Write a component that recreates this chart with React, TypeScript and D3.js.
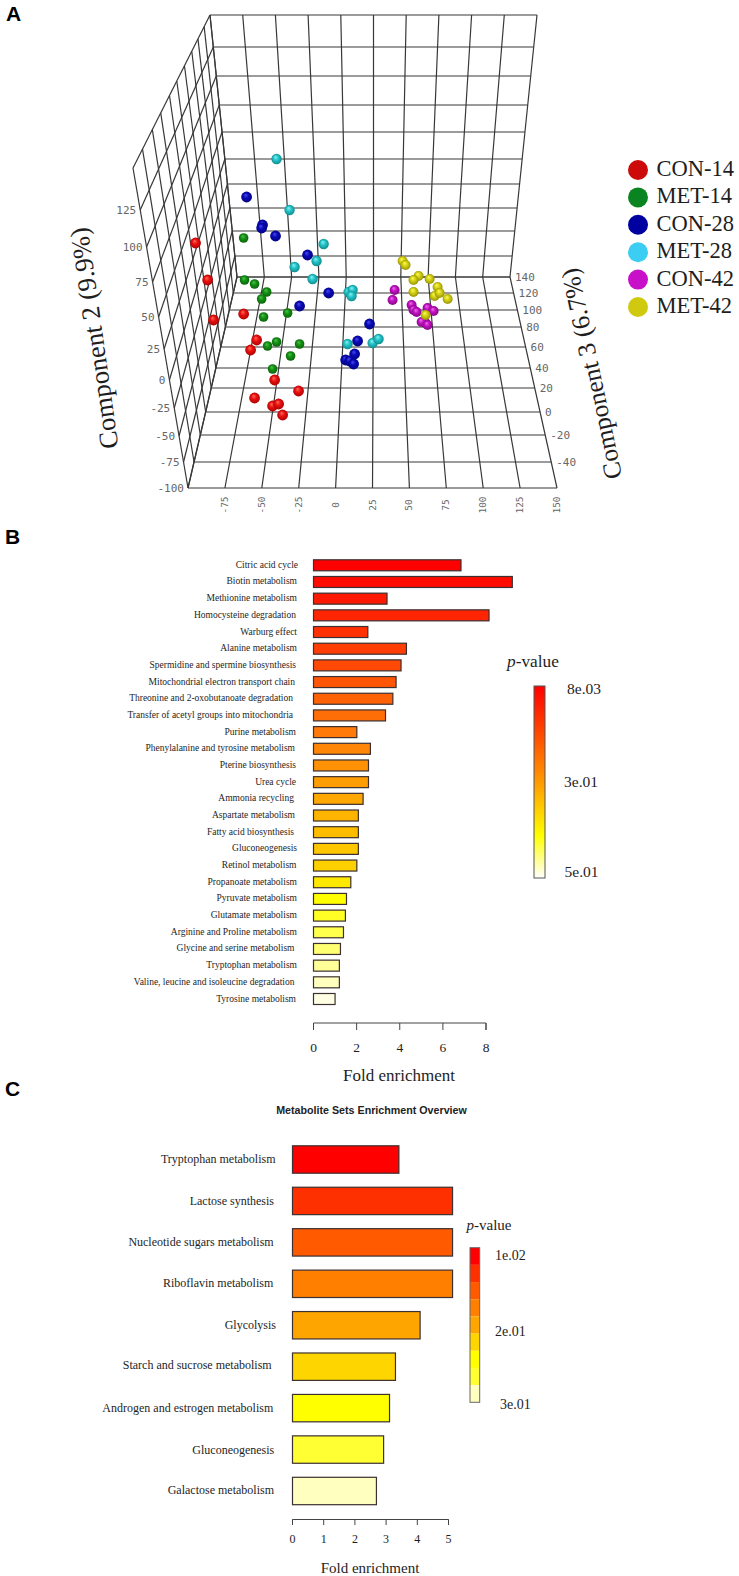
import React from "react";
import * as d3 from "d3";

// ---------- DATA ----------
const legendGroups = ["CON-14", "MET-14", "CON-28", "MET-28", "CON-42", "MET-42"];
const con14C1 = [-94.9, -86.7, -82.7, -62.3, -53.5, -57.6, -41.3, -25.1, -54.9, -42.7, -38.6, -35.9];
const con14C2 = [96, 66.4, 34.4, 39.2, 18.4, 10.4, -13.6, -22.4, -28, -34.4, -32.8, -41.6];
const met14C1 = [-62.3, -61.7, -54.9, -46.7, -50.1, -32.5, -48.8, -40, -46.1, -24.4, -30.5, -42.7];
const met14C2 = [100, 66.4, 63.2, 56.8, 51.2, 40, 36.8, 16.8, 13.6, 15.2, 5.6, -4.8];
const con28C1 = [-60.3, -49.5, -50.1, -40.7, -19, -4.7, -24.4, 23, 14.9, 12.9, 6.8, 9.5, 12.2];
const con28C2 = [132.8, 110.4, 108, 101.6, 86.4, 56, 45.6, 31.2, 17.6, 7.2, 2.4, 1.6, -0.8];
const met28C1 = [-40, -31.2, -8.1, -12.9, -27.8, -15.6, 8.8, 11.5, 10.8, 8.1, 25.1, 29.1];
const met28C2 = [163.2, 122.4, 95.2, 81.6, 76.8, 67.2, 56.8, 58.4, 53.6, 15.2, 16, 19.2];
const con42C1 = [40, 38.6, 51.5, 52.8, 54.9, 62.3, 66.4, 61, 58.3, 62.3];
const con42C2 = [58.4, 50.4, 46.4, 42.4, 40.8, 44, 41.6, 32, 32.8, 30.4];
const met42C1 = [45.4, 47.4, 56.2, 52.8, 63.7, 52.8, 69.1, 67.1, 70.5, 75.9, 61];
const met42C2 = [81.6, 78.4, 69.6, 66.4, 67.2, 56.8, 60.8, 53.6, 56, 51.2, 38.4];

const comp1Ticks = ["-75", "-50", "-25", "0", "25", "50", "75", "100", "125", "150"];
const comp2Ticks = ["125", "100", "75", "50", "25", "0", "-25", "-50", "-75", "-100"];
const comp3Ticks = ["140", "120", "100", "80", "60", "40", "20", "0", "-20", "-40"];

const pathwaysB = [
  "Citric acid cycle", "Biotin metabolism", "Methionine metabolism", "Homocysteine degradation",
  "Warburg effect", "Alanine metabolism", "Spermidine and spermine biosynthesis",
  "Mitochondrial electron transport chain", "Threonine and 2-oxobutanoate degradation",
  "Transfer of acetyl groups into mitochondria", "Purine metabolism",
  "Phenylalanine and tyrosine metabolism", "Pterine biosynthesis", "Urea cycle", "Ammonia recycling",
  "Aspartate metabolism", "Fatty acid biosynthesis", "Gluconeogenesis", "Retinol metabolism",
  "Propanoate metabolism", "Pyruvate metabolism", "Glutamate metabolism",
  "Arginine and Proline metabolism", "Glycine and serine metabolism", "Tryptophan metabolism",
  "Valine, leucine and isoleucine degradation", "Tyrosine metabolism",
];
const foldB = [6.84, 9.22, 3.41, 8.14, 2.52, 4.31, 4.06, 3.83, 3.68, 3.34, 2.01, 2.64, 2.55, 2.55, 2.3,
  2.08, 2.08, 2.08, 2.01, 1.73, 1.53, 1.48, 1.39, 1.25, 1.2, 1.2, 1.0];
const foldTicksB = [0, 2, 4, 6, 8];
const pLabelsB = ["8e.03", "3e.01", "5e.01"];

const pathwaysC = [
  "Tryptophan metabolism", "Lactose synthesis", "Nucleotide sugars metabolism", "Riboflavin metabolism",
  "Glycolysis", "Starch and sucrose metabolism", "Androgen and estrogen metabolism", "Gluconeogenesis",
  "Galactose metabolism",
];
const foldC = [3.41, 5.13, 5.13, 5.13, 4.09, 3.3, 3.11, 2.92, 2.69];
const foldTicksC = [0, 1, 2, 3, 4, 5];
const pLabelsC = ["1e.02", "2e.01", "3e.01"];
const heatC = ["#ff0000", "#ff3000", "#ff5a00", "#ff8000", "#ffa500", "#ffd500", "#ffff00", "#ffff33", "#ffffbf"];

// ---------- LAYOUT / STYLE ----------
const SERIF = "'Liberation Serif', serif";
const SANS = "'Liberation Sans', Arial, sans-serif";
const MONO = "'DejaVu Sans Mono', monospace";
const INK = "#1e1e1e";

const backLevels = [15, 47, 76, 105, 132, 159, 184, 208, 231, 256, 277];
const floorLevels = [277, 293, 310, 327, 347, 368, 388, 412, 435, 462, 488];
type P = [number, number];
const A: P = [210, 15], B: P = [237, 277], CC: P = [188, 488], D: P = [133, 168];
const R0: P = [537, 15], R1: P = [510, 277], R2: P = [557, 488];
const lerp = (a: P, b: P, t: number): P => [a[0] + (b[0] - a[0]) * t, a[1] + (b[1] - a[1]) * t];
const line3 = d3.line<P>();
const backT = backLevels.map((y) => (y - 15) / 262);
const floorT = floorLevels.map((y) => (y - 277) / 211);
const outerLevels = [168, 210, 247, 282, 317, 349, 380, 408, 436, 462, 488];
const outerT = outerLevels.map((y) => (y - 168) / 320);

const gridSegs: P[][] = [];
backT.forEach((t) => gridSegs.push([lerp(A, B, t), lerp(R0, R1, t)]));
floorT.forEach((t) => gridSegs.push([lerp(B, CC, t), lerp(R1, R2, t)]));
d3.range(11).forEach((i) => {
  const u = i / 10;
  gridSegs.push([lerp(A, R0, u), lerp(B, R1, u), lerp(CC, R2, u)]);
});
// left wall
d3.range(11).forEach((i) => {
  gridSegs.push([lerp(A, B, backT[i]), lerp(D, CC, outerT[i])]);
  gridSegs.push([lerp(A, D, floorT[i]), lerp(B, CC, floorT[i])]);
});

const xA = d3.scaleLinear().domain([-100, 150]).range([188, 557]);
const yA = d3.scaleLinear().domain([-100, 280]).range([488, 13]);

const seriesA = [
  { c1: con14C1, c2: con14C2, r: 5.4, id: "s0", hi: "#ff6a5a", mid: "#e81010", lo: "#a80000", flat: "#cc0a0a" },
  { c1: met14C1, c2: met14C2, r: 4.8, id: "s1", hi: "#4fc24f", mid: "#129012", lo: "#0a5f0a", flat: "#0a8420" },
  { c1: con28C1, c2: con28C2, r: 5.4, id: "s2", hi: "#4a4ae8", mid: "#0808b8", lo: "#04047a", flat: "#0000a0" },
  { c1: met28C1, c2: met28C2, r: 5.2, id: "s3", hi: "#8ff0f0", mid: "#20c4c8", lo: "#128488", flat: "#3ccdf2" },
  { c1: con42C1, c2: con42C2, r: 5.0, id: "s4", hi: "#f070f0", mid: "#c010c0", lo: "#800880", flat: "#c810c8" },
  { c1: met42C1, c2: met42C2, r: 5.0, id: "s5", hi: "#fbfb60", mid: "#d4d010", lo: "#8f8c08", flat: "#cfc90f" },
];

// Panel B
const xB = d3.scaleLinear().domain([0, 8]).range([313.5, 486]);
const yB = d3.scalePoint<string>().domain(pathwaysB).range([565.3, 999]);
const heatB = d3.scaleLinear<string>()
  .domain([0, 10, 15, 18, 20, 26])
  .range(["#ff0000", "#ff7a08", "#ffb400", "#ffd000", "#ffff00", "#ffffe4"]);
const labelEndsB = [298, 297, 297, 296, 297, 297, 296, 295, 293, 293, 296, 295, 296, 296, 294, 295, 294, 297, 296.5, 297, 297, 297, 297, 294.5, 297, 294.5, 296];

// Panel C
const xC = d3.scaleLinear().domain([0, 5]).range([292.5, 448.5]);
const yC = d3.scalePoint<string>().domain(pathwaysC).range([1159.5, 1491]);
const labelEndsC = [275.5, 274, 273.7, 273.3, 276, 271.7, 273.3, 274.3, 274];
const labelYNudgeC = [0, 1, 0.5, 0, 0, -1, 0.5, 0.5, -1];

const Title = ({ x, y, size, children }: any) => (
  <text x={x} y={y} fontFamily={SERIF} fontSize={size} fill={INK} textAnchor="middle">{children}</text>
);

export default function App() {
  return (
    <svg width={739} height={1576} viewBox="0 0 739 1576"
      style={{ position: "absolute", left: 0, top: 0, display: "block", background: "#fff" }}>
      <defs>
        {seriesA.map((s) => (
          <radialGradient key={s.id} id={s.id} cx="0.5" cy="0.5" r="0.55" fx="0.4" fy="0.3">
            <stop offset="0" stopColor={s.hi} />
            <stop offset="0.45" stopColor={s.mid} />
            <stop offset="1" stopColor={s.lo} />
          </radialGradient>
        ))}
        <linearGradient id="barB" x1="0" y1="0" x2="0" y2="1">
          <stop offset="0" stopColor="#ff0000" />
          <stop offset="0.25" stopColor="#ff4a00" />
          <stop offset="0.5" stopColor="#ff9a00" />
          <stop offset="0.78" stopColor="#ffff00" />
          <stop offset="1" stopColor="#ffffff" />
        </linearGradient>
      </defs>

      {/* Panel letters */}
      <text x={6} y={21} fontFamily={SANS} fontWeight="bold" fontSize={21} fill="#000">A</text>
      <text x={5} y={544} fontFamily={SANS} fontWeight="bold" fontSize={21} fill="#000">B</text>
      <text x={5} y={1096} fontFamily={SANS} fontWeight="bold" fontSize={21} fill="#000">C</text>

      {/* Panel A: grid */}
      <g fill="none" stroke="#383838" strokeWidth={1.2}>
        {gridSegs.map((s, i) => <path key={i} d={line3(s) as string} />)}
      </g>
      <g fontFamily={MONO} fill="#666">
        <g fontSize={11}>
          {comp2Ticks.map((t, i) => {
            const p = lerp(D, CC, outerT[i + 1]);
            return <text key={t} x={p[0] - 4} y={p[1] + 4} textAnchor="end">{t}</text>;
          })}
          {comp3Ticks.map((t, i) => {
            const p = lerp(R1, R2, floorT[i]);
            return <text key={t} x={p[0] + 5} y={p[1] + 4}>{t}</text>;
          })}
        </g>
        <g fontSize={9.5}>
          {comp1Ticks.map((t) => (
            <text key={t} transform={`translate(${xA(+t) + 3},505) rotate(-90)`} textAnchor="middle">{t}</text>
          ))}
        </g>
      </g>
      {seriesA.map((s) => (
        <g key={s.id}>
          {s.c1.map((v, i) => (
            <circle key={i} cx={xA(v)} cy={yA(s.c2[i])} r={s.r} fill={`url(#${s.id})`} />
          ))}
        </g>
      ))}
      <text transform="translate(103,337) rotate(-98)" fontFamily={SERIF} fontSize={26.5} fill={INK} textAnchor="middle">Component 2 (9.9%)</text>
      <text transform="translate(600,372) rotate(-102)" fontFamily={SERIF} fontSize={25.5} fill={INK} textAnchor="middle">Component 3 (6.7%)</text>

      {/* Legend */}
      {legendGroups.map((g, i) => {
        const y = d3.scaleLinear().domain([0, 5]).range([170, 307])(i);
        return (
          <g key={g}>
            <circle cx={638} cy={y} r={10} fill={seriesA[i].flat} />
            <text x={656.5} y={y + 6} fontFamily={SERIF} fontSize={22.5} fill={INK}>{g}</text>
          </g>
        );
      })}

      {/* Panel B */}
      {pathwaysB.map((p, i) => (
        <g key={p}>
          <text x={labelEndsB[i]} y={(yB(p) as number) + 2.5} fontFamily={SERIF} fontSize={9.5} fill={INK} textAnchor="end">{p}</text>
          <rect x={xB(0)} y={(yB(p) as number) - 5.5} width={xB(foldB[i]) - xB(0)} height={11}
            fill={heatB(i)} stroke="#3c3030" strokeWidth={1.2} />
        </g>
      ))}
      <g stroke="#444" fill="none" strokeWidth={1}>
        <path d={`M${xB(0)},1030V1023H${xB(8)}V1030`} />
        {foldTicksB.map((t) => <path key={t} d={`M${xB(t)},1023V1030`} />)}
      </g>
      {foldTicksB.map((t) => (
        <text key={t} x={xB(t)} y={1052} fontFamily={SERIF} fontSize={13.5} fill={INK} textAnchor="middle">{t}</text>
      ))}
      <Title x={399} y={1081} size={17}>Fold enrichment</Title>
      <text x={507} y={667} fontFamily={SERIF} fontSize={17.3} fill={INK}>
        <tspan fontStyle="italic">p</tspan>-value
      </text>
      <rect x={534} y={686} width={11} height={192} fill="url(#barB)" stroke="#555" strokeWidth={1} />
      <g fontFamily={SERIF} fontSize={15.5} fill={INK}>
        <text x={567} y={694}>{pLabelsB[0]}</text>
        <text x={564} y={787}>{pLabelsB[1]}</text>
        <text x={564.5} y={877}>{pLabelsB[2]}</text>
      </g>

      {/* Panel C */}
      <text x={371.5} y={1113.5} fontFamily={SANS} fontWeight="bold" fontSize={10.7} fill="#222" textAnchor="middle">Metabolite Sets Enrichment Overview</text>
      {pathwaysC.map((p, i) => (
        <g key={p}>
          <text x={labelEndsC[i]} y={(yC(p) as number) + 3.5 + labelYNudgeC[i]} fontFamily={SERIF} fontSize={12} fill={INK} textAnchor="end">{p}</text>
          <rect x={xC(0)} y={(yC(p) as number) - 13.7} width={xC(foldC[i]) - xC(0)} height={27.4}
            fill={heatC[i]} stroke="#3c3030" strokeWidth={1.2} />
        </g>
      ))}
      <g stroke="#444" fill="none" strokeWidth={1}>
        <path d={`M${xC(0)},1525V1519.5H${xC(5)}V1525`} />
        {foldTicksC.map((t) => <path key={t} d={`M${xC(t)},1519.5V1525`} />)}
      </g>
      {foldTicksC.map((t) => (
        <text key={t} x={xC(t)} y={1543} fontFamily={SERIF} fontSize={12} fill={INK} textAnchor="middle">{t}</text>
      ))}
      <Title x={370} y={1573} size={15}>Fold enrichment</Title>
      <text x={466.5} y={1230} fontFamily={SERIF} fontSize={15} fill={INK}>
        <tspan fontStyle="italic">p</tspan>-value
      </text>
      {heatC.map((c, i) => {
        const yy = d3.scaleLinear().domain([0, 9]).range([1247.7, 1402.3]);
        return <rect key={c} x={470} y={yy(i)} width={9.7} height={yy(1) - yy(0)} fill={c} />;
      })}
      <rect x={470} y={1247.7} width={9.7} height={154.6} fill="none" stroke="#666" strokeWidth={1} />
      <g fontFamily={SERIF} fontSize={14} fill={INK}>
        <text x={495} y={1260}>{pLabelsC[0]}</text>
        <text x={495} y={1335.5}>{pLabelsC[1]}</text>
        <text x={500} y={1409}>{pLabelsC[2]}</text>
      </g>
    </svg>
  );
}
